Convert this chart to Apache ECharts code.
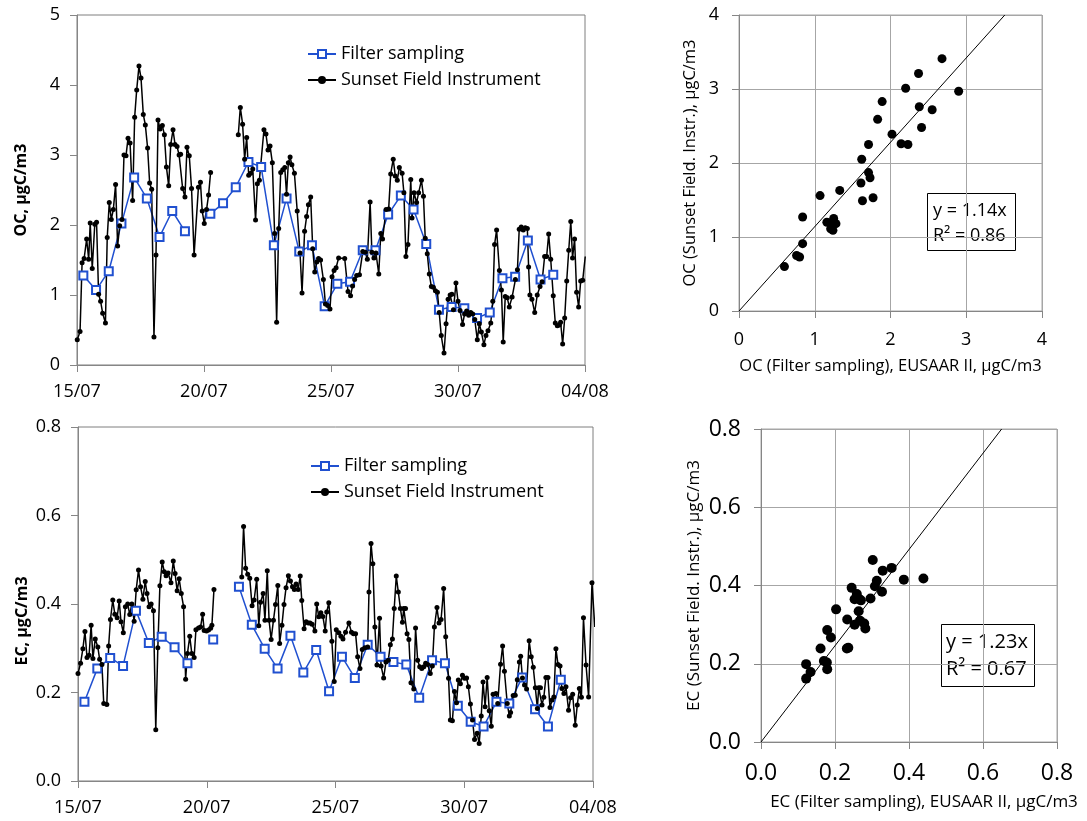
<!DOCTYPE html>
<html>
<head>
<meta charset="utf-8">
<script src="https://cdn.jsdelivr.net/npm/echarts@6/dist/echarts.min.js"></script>
<style>
  html, body { margin: 0; padding: 0; background: #fff; }
  #chart { width: 1087px; height: 821px; }
</style>
</head>
<body>
<div id="chart"></div>
<script>
// tick labels for the time axes (days since 15/07, every 5 days)
const dateLabels = ['15/07', '20/07', '25/07', '30/07', '04/08'];
const seriesNames = ['Filter sampling', 'Sunset Field Instrument'];

// OC filter samples (12 h), null = no sample
const ocFilterDays = [0.25, 0.75, 1.25, 1.75, 2.25, 2.75, 3.25, 3.75, 4.25, 4.75, 5.25, 5.75, 6.25, 6.75, 7.25, 7.75, 8.25, 8.75, 9.25, 9.75,
  10.25, 10.75, 11.25, 11.75, 12.25, 12.75, 13.25, 13.75, 14.25, 14.75, 15.25, 15.75, 16.25, 16.75, 17.25, 17.75, 18.25, 18.75];
const ocFilter = [1.28, 1.07, 1.34, 2.02, 2.68, 2.38, 1.83, 2.20, 1.91, null, 2.16, 2.31, 2.54, 2.90, 2.83, 1.71, 2.38, 1.62, 1.71, 0.84,
  1.16, 1.19, 1.64, 1.64, 2.15, 2.42, 2.22, 1.73, 0.79, 0.83, 0.81, 0.67, 0.75, 1.24, 1.26, 1.78, 1.22, 1.29];

// OC Sunset field instrument
const ocSunsetDays = [0.01, 0.12, 0.20, 0.28, 0.38, 0.46, 0.52, 0.60, 0.70, 0.77, 0.85, 0.93, 1.01, 1.12, 1.19, 1.27, 1.35, 1.43, 1.52, 1.60,
  1.68, 1.77, 1.85, 1.93, 2.01, 2.09, 2.19, 2.27, 2.35, 2.44, 2.52, 2.61, 2.69, 2.78, 2.86, 2.94, 3.03, 3.11, 3.19, 3.27,
  3.36, 3.44, 3.52, 3.61, 3.69, 3.78, 3.86, 3.94, 4.02, 4.08, 4.16, 4.25, 4.33, 4.42, 4.51, 4.61, 4.78, 4.86, 4.93, 5.01,
  5.10, 5.18, 5.26, 5.80, 6.35, 6.43, 6.52, 6.60, 6.68, 6.76, 6.84, 6.92, 7.03, 7.10, 7.18, 7.36, 7.44, 7.52, 7.60, 7.69,
  7.78, 7.86, 7.94, 8.02, 8.10, 8.18, 8.25, 8.32, 8.39, 8.46, 8.56, 8.67, 8.78, 8.86, 8.96, 9.04, 9.11, 9.20, 9.28, 9.36,
  9.44, 9.51, 9.59, 9.70, 9.78, 9.87, 9.96, 10.04, 10.12, 10.20, 10.30, 10.54, 10.67, 10.77, 10.85, 10.93, 11.01, 11.12, 11.25, 11.35,
  11.43, 11.54, 11.61, 11.69, 11.77, 11.88, 11.96, 12.03, 12.17, 12.27, 12.35, 12.45, 12.53, 12.61, 12.69, 12.80, 12.87, 12.95, 13.03, 13.14,
  13.19, 13.27, 13.37, 13.45, 13.56, 13.64, 13.71, 13.79, 13.87, 13.95, 14.03, 14.11, 14.19, 14.26, 14.34, 14.45, 14.53, 14.61, 14.69, 14.76,
  14.82, 14.92, 15.00, 15.08, 15.18, 15.26, 15.34, 15.42, 15.50, 15.58, 15.66, 15.76, 15.84, 15.92, 16.02, 16.10, 16.18, 16.29, 16.37, 16.44,
  16.52, 16.63, 16.71, 16.78, 16.86, 16.94, 17.02, 17.13, 17.26, 17.34, 17.41, 17.49, 17.57, 17.65, 17.73, 17.78, 17.83, 17.91, 18.02, 18.12,
  18.23, 18.31, 18.41, 18.49, 18.57, 18.65, 18.75, 18.83, 18.91, 18.99, 19.04, 19.12, 19.20, 19.28, 19.36, 19.44, 19.51, 19.59, 19.67, 19.75,
  19.83, 19.91, 20.01];
const ocSunset = [0.36, 0.48, 1.46, 1.52, 1.80, 1.51, 2.03, 1.38, 2.01, 2.04, 1.01, 0.91, 0.74, 0.60, 1.82, 2.32, 2.08, 2.22, 2.58, 1.70,
  1.99, 2.08, 3.00, 2.99, 3.24, 3.17, 2.35, 3.54, 3.93, 4.27, 4.10, 3.58, 3.43, 3.10, 2.60, 2.51, 0.40, 1.57, 3.50, 3.37,
  3.42, 3.29, 2.83, 2.56, 3.15, 3.36, 3.15, 3.12, 3.00, 3.01, 2.52, 2.40, 3.11, 2.99, 2.52, 1.57, 2.54, 2.61, 2.20, 2.02,
  2.22, 2.43, 2.75, null, 3.29, 3.68, 3.44, 2.94, 3.25, 2.71, 2.74, 2.80, 2.07, 2.59, 2.64, 3.36, 3.30, 3.07, 3.13, 2.89,
  1.88, 0.61, 1.95, 2.75, 2.79, 2.82, 2.44, 2.89, 2.97, 2.86, 2.74, 2.20, 1.60, 1.03, 1.91, 2.12, 2.29, 2.40, 1.66, 1.33,
  1.47, 1.52, 1.50, 1.22, 0.87, 0.85, 0.80, 1.26, 1.35, 1.39, 1.53, 1.52, 1.05, 0.99, 1.13, 1.22, 1.28, 1.29, 1.62, 1.61,
  1.51, 2.33, 1.61, 1.53, 1.60, 1.30, 1.88, 1.80, 2.22, 2.23, 2.73, 2.94, 2.70, 2.64, 2.82, 2.74, 2.46, 1.55, 1.72, 2.65,
  2.10, 2.46, 2.32, 2.46, 2.64, 2.41, 1.81, 1.59, 1.30, 1.12, 1.11, 1.06, 1.04, 0.75, 0.42, 0.17, 0.59, 0.94, 1.00, 1.01,
  0.79, 1.17, 0.91, 0.78, 0.58, 0.73, 0.77, 0.71, 0.75, 0.73, 0.65, 0.36, 0.59, 0.47, 0.29, 0.42, 0.49, 0.60, 0.91, 1.72,
  1.93, 1.35, 1.07, 0.33, 0.98, 0.96, 0.83, 0.97, 1.22, 1.36, 1.94, 1.97, 1.93, 1.96, 1.95, 1.40, 1.00, 0.94, 0.75, 1.00,
  1.12, 1.19, 1.55, 1.55, 1.87, 1.51, 0.99, 0.60, 0.56, 0.57, 0.61, 0.30, 0.67, 1.20, 1.64, 2.05, 1.53, 1.80, 1.04, 0.83,
  1.20, 1.21, 1.55];

// EC filter samples
const ecFilterDays = ocFilterDays;
const ecFilter = [0.179, 0.254, 0.278, 0.260, 0.385, 0.312, 0.326, 0.302, 0.266, null, 0.320, null, 0.439, 0.353, 0.299, 0.254, 0.328, 0.245, 0.296, 0.203,
  0.281, 0.233, 0.308, 0.281, 0.269, 0.263, 0.188, 0.273, 0.266, 0.170, 0.134, 0.123, 0.179, 0.175, 0.234, 0.162, 0.123, 0.229];

// EC Sunset field instrument
const ecSunsetDays = [0.00, 0.10, 0.19, 0.27, 0.35, 0.43, 0.51, 0.58, 0.67, 0.77, 0.84, 0.93, 1.00, 1.12, 1.19, 1.26, 1.35, 1.43, 1.52, 1.60,
  1.67, 1.76, 1.84, 1.93, 2.01, 2.09, 2.18, 2.26, 2.35, 2.43, 2.52, 2.61, 2.68, 2.76, 2.84, 2.93, 3.02, 3.10, 3.18, 3.27,
  3.35, 3.42, 3.50, 3.61, 3.70, 3.77, 3.85, 3.93, 4.01, 4.10, 4.18, 4.25, 4.34, 4.42, 4.51, 4.58, 4.68, 4.76, 4.84, 4.90,
  4.99, 5.07, 5.15, 5.20, 5.28, 5.80, 6.36, 6.43, 6.51, 6.59, 6.67, 6.76, 6.84, 6.94, 7.02, 7.09, 7.19, 7.26, 7.35, 7.42,
  7.50, 7.59, 7.67, 7.76, 7.83, 7.92, 8.00, 8.08, 8.17, 8.25, 8.33, 8.40, 8.47, 8.55, 8.63, 8.69, 8.78, 8.86, 8.94, 9.01,
  9.09, 9.20, 9.27, 9.35, 9.43, 9.51, 9.60, 9.66, 9.74, 9.86, 9.95, 10.03, 10.13, 10.21, 10.29, 10.39, 10.52, 10.62, 10.70, 10.78,
  10.86, 10.95, 11.04, 11.14, 11.25, 11.30, 11.38, 11.45, 11.53, 11.61, 11.71, 11.77, 11.87, 11.96, 12.05, 12.13, 12.21, 12.28, 12.36, 12.44,
  12.52, 12.60, 12.65, 12.72, 12.78, 12.85, 12.93, 13.04, 13.11, 13.19, 13.27, 13.35, 13.43, 13.50, 13.58, 13.68, 13.76, 13.84, 13.94, 14.02,
  14.10, 14.20, 14.28, 14.39, 14.46, 14.54, 14.62, 14.70, 14.77, 14.85, 14.93, 15.01, 15.09, 15.16, 15.24, 15.32, 15.40, 15.50, 15.58, 15.66,
  15.73, 15.81, 15.89, 15.97, 16.05, 16.12, 16.23, 16.30, 16.41, 16.49, 16.56, 16.67, 16.75, 16.80, 16.90, 16.98, 17.06, 17.14, 17.19, 17.26,
  17.34, 17.42, 17.52, 17.60, 17.68, 17.76, 17.84, 17.89, 17.96, 18.02, 18.09, 18.17, 18.25, 18.33, 18.41, 18.48, 18.56, 18.64, 18.72, 18.79,
  18.87, 18.95, 19.05, 19.13, 19.21, 19.31, 19.39, 19.47, 19.55, 19.63, 19.73, 19.83, 19.96, 20.07];
const ecSunset = [0.243, 0.266, 0.299, 0.338, 0.279, 0.284, 0.352, 0.277, 0.321, 0.303, 0.275, 0.263, 0.175, 0.173, 0.305, 0.365, 0.409, 0.377, 0.369, 0.407,
  0.360, 0.335, 0.394, 0.400, 0.376, 0.400, 0.361, 0.432, 0.477, 0.439, 0.411, 0.451, 0.424, 0.394, 0.400, 0.385, 0.116, 0.301, 0.441, 0.495,
  0.473, 0.464, 0.470, 0.448, 0.497, 0.469, 0.430, 0.457, 0.424, 0.394, 0.230, 0.288, 0.327, 0.288, 0.279, 0.342, 0.346, 0.348, 0.377, 0.340,
  0.339, 0.341, 0.345, 0.352, 0.433, null, 0.461, 0.575, 0.481, 0.467, 0.458, 0.396, 0.409, 0.456, 0.351, 0.404, 0.424, 0.363, 0.475, 0.363,
  0.320, 0.363, 0.399, 0.442, 0.311, 0.352, 0.399, 0.437, 0.464, 0.452, 0.439, 0.433, 0.445, 0.433, 0.463, 0.408, 0.344, 0.360, 0.357, 0.357,
  0.354, 0.339, 0.400, 0.371, 0.380, 0.372, 0.339, 0.382, 0.403, 0.316, 0.225, 0.342, 0.335, 0.327, 0.321, 0.336, 0.357, 0.336, 0.333, 0.333,
  0.281, 0.254, 0.297, 0.301, 0.303, 0.427, 0.537, 0.491, 0.348, 0.262, 0.368, 0.260, 0.233, 0.269, 0.273, 0.308, 0.321, 0.390, 0.463, 0.427,
  0.390, 0.359, 0.390, 0.390, 0.333, 0.320, 0.222, 0.208, 0.346, 0.273, 0.258, 0.254, 0.258, 0.266, 0.263, 0.243, 0.260, 0.348, 0.392, 0.357,
  0.365, 0.435, 0.326, 0.232, 0.138, 0.136, 0.202, 0.177, 0.228, 0.220, 0.239, 0.232, 0.233, 0.213, 0.174, 0.138, 0.094, 0.108, 0.085, 0.147,
  0.224, 0.168, 0.234, 0.159, 0.124, 0.196, 0.198, 0.175, 0.264, 0.305, 0.248, 0.175, 0.147, 0.155, 0.193, 0.194, 0.229, 0.269, 0.282, 0.233,
  0.217, 0.208, 0.317, 0.281, 0.257, 0.211, 0.164, 0.211, 0.211, 0.172, 0.189, 0.234, 0.234, 0.166, 0.183, 0.190, 0.299, 0.263, 0.260, 0.209,
  0.198, 0.213, 0.160, 0.188, 0.196, 0.126, 0.172, 0.209, 0.189, 0.369, 0.262, 0.190, 0.448, 0.348];

// scatter: filter (x) vs Sunset averaged (y)
const ocScatterX = [0.60, 0.76, 0.80, 0.84, 0.84, 1.07, 1.16, 1.21, 1.24, 1.25, 1.28, 1.22, 1.33, 1.61, 1.62, 1.63, 1.71, 1.71, 1.73, 1.77,
  1.83, 1.89, 2.02, 2.14, 2.20, 2.23, 2.37, 2.38, 2.41, 2.55, 2.68, 2.90];
const ocScatterY = [0.60, 0.75, 0.73, 1.27, 0.91, 1.56, 1.20, 1.11, 1.09, 1.25, 1.18, 1.17, 1.63, 1.73, 2.05, 1.49, 1.87, 2.25, 1.80, 1.53,
  2.59, 2.83, 2.39, 2.26, 3.01, 2.25, 3.21, 2.76, 2.48, 2.72, 3.41, 2.97];
const ecScatterX = [0.122, 0.122, 0.134, 0.161, 0.170, 0.178, 0.179, 0.179, 0.189, 0.203, 0.233, 0.232, 0.236, 0.245, 0.253, 0.259, 0.253, 0.264, 0.266, 0.270,
  0.268, 0.279, 0.282, 0.296, 0.302, 0.308, 0.313, 0.327, 0.329, 0.353, 0.386, 0.439];
const ecScatterY = [0.162, 0.199, 0.179, 0.239, 0.207, 0.203, 0.186, 0.286, 0.267, 0.339, 0.313, 0.239, 0.241, 0.394, 0.365, 0.378, 0.300, 0.334, 0.365, 0.362,
  0.310, 0.303, 0.290, 0.367, 0.465, 0.398, 0.412, 0.384, 0.438, 0.445, 0.415, 0.418];

// regression through origin: [slope, R²]
const ocFit = [1.14, 0.86];
const ecFit = [1.23, 0.67];

const FONT = "'Open Sans', sans-serif";
const BLUE = '#2050d0';
const AXIS_GREY = '#868686';

function pairs(xs, ys) {
  return xs.map((x, i) => [x, ys[i] == null ? '-' : ys[i]]);
}

function timeXAxis(gridIndex) {
  return {
    type: 'value', gridIndex: gridIndex, min: 0, max: 20, interval: 5,
    axisLine: { lineStyle: { color: AXIS_GREY } },
    axisTick: { show: true, length: 7, lineStyle: { color: AXIS_GREY } },
    axisLabel: { formatter: v => dateLabels[Math.round(v / 5)], margin: 18, color: '#000', fontSize: 18, fontFamily: FONT },
    splitLine: { show: false }
  };
}

function valueAxis(gridIndex, max, interval, digits, labelSize, grid, extra) {
  return Object.assign({
    type: 'value', gridIndex: gridIndex, min: 0, max: max, interval: interval,
    axisLine: { show: true, lineStyle: { color: AXIS_GREY } },
    axisTick: { show: true, length: 7, lineStyle: { color: AXIS_GREY } },
    axisLabel: { formatter: v => v.toFixed(digits), margin: grid ? 20 : 17, color: '#000', fontSize: labelSize, fontFamily: FONT },
    splitLine: { show: grid, lineStyle: { color: '#a6a6a6', width: 1 } }
  }, extra);
}

function fitBox(fit) {
  return 'y = ' + fit[0].toFixed(2) + 'x\nR² = ' + fit[1].toFixed(2);
}

const chart = echarts.init(document.getElementById('chart'), null, { renderer: 'canvas' });

const legendBase = {
  data: seriesNames, orient: 'vertical', itemWidth: 28, itemHeight: 10, itemGap: 8,
  textStyle: { fontSize: 18, fontFamily: FONT, color: '#000' }
};

const option = {
  animation: false,
  backgroundColor: '#fff',
  grid: [
    { left: 77, top: 15, width: 508, height: 350, show: true, borderColor: '#7f7f7f', borderWidth: 1 },
    { left: 78, top: 427, width: 515, height: 354, show: true, borderColor: '#7f7f7f', borderWidth: 1 },
    { left: 739, top: 15, width: 303, height: 296, show: true, borderColor: '#a6a6a6', borderWidth: 1 },
    { left: 761, top: 429, width: 296, height: 313, show: true, borderColor: '#a6a6a6', borderWidth: 1 }
  ],
  legend: [
    Object.assign({ left: 302, top: 40 }, legendBase),
    Object.assign({ left: 305, top: 452 }, legendBase)
  ],
  xAxis: [
    timeXAxis(0),
    timeXAxis(1),
    valueAxis(2, 4, 1, 0, 18, true, {
      name: 'OC (Filter sampling), EUSAAR II, µgC/m3', nameLocation: 'middle', nameGap: 47,
      nameTextStyle: { fontSize: 16.5, fontFamily: FONT, color: '#000' }
    }),
    valueAxis(3, 0.8, 0.2, 1, 23, true, {
      name: 'EC (Filter sampling), EUSAAR II, µgC/m3', nameLocation: 'middle', nameGap: 52,
      nameTextStyle: { fontSize: 17, fontFamily: FONT, color: '#000', padding: [0, 0, 0, 30] }
    })
  ],
  yAxis: [
    valueAxis(0, 5, 1, 0, 18, false, {
      name: 'OC, µgC/m3', nameLocation: 'middle', nameGap: 48,
      nameTextStyle: { fontSize: 16, fontWeight: 'bold', fontFamily: FONT, color: '#000' }
    }),
    valueAxis(1, 0.8, 0.2, 1, 18, false, {
      name: 'EC, µgC/m3', nameLocation: 'middle', nameGap: 48,
      nameTextStyle: { fontSize: 16, fontWeight: 'bold', fontFamily: FONT, color: '#000', padding: [0, 34, 0, 0] }
    }),
    valueAxis(2, 4, 1, 0, 18, true, {
      name: 'OC (Sunset Field. Instr.), µgC/m3', nameLocation: 'middle', nameGap: 40,
      nameTextStyle: { fontSize: 16.5, fontFamily: FONT, color: '#000' }
    }),
    valueAxis(3, 0.8, 0.2, 1, 23, true, {
      name: 'EC (Sunset Field. Instr.), µgC/m3', nameLocation: 'middle', nameGap: 58,
      nameTextStyle: { fontSize: 17, fontFamily: FONT, color: '#000' }
    })
  ],
  series: [
    {
      name: seriesNames[0], type: 'line', xAxisIndex: 0, yAxisIndex: 0,
      data: pairs(ocFilterDays, ocFilter), showAllSymbol: true,
      symbol: 'emptyRect', symbolSize: 8,
      lineStyle: { color: BLUE, width: 1.5 }, itemStyle: { color: BLUE, borderWidth: 1.3 }
    },
    {
      name: seriesNames[1], type: 'line', xAxisIndex: 0, yAxisIndex: 0,
      data: pairs(ocSunsetDays, ocSunset), showAllSymbol: true,
      symbol: 'circle', symbolSize: 5,
      lineStyle: { color: '#000', width: 1.5 }, itemStyle: { color: '#000' }
    },
    {
      name: seriesNames[0], type: 'line', xAxisIndex: 1, yAxisIndex: 1,
      data: pairs(ecFilterDays, ecFilter), showAllSymbol: true,
      symbol: 'emptyRect', symbolSize: 8,
      lineStyle: { color: BLUE, width: 1.5 }, itemStyle: { color: BLUE, borderWidth: 1.3 }
    },
    {
      name: seriesNames[1], type: 'line', xAxisIndex: 1, yAxisIndex: 1,
      data: pairs(ecSunsetDays, ecSunset), showAllSymbol: true,
      symbol: 'circle', symbolSize: 5,
      lineStyle: { color: '#000', width: 1.5 }, itemStyle: { color: '#000' }
    },
    {
      type: 'scatter', xAxisIndex: 2, yAxisIndex: 2, symbolSize: 9,
      data: pairs(ocScatterX, ocScatterY), itemStyle: { color: '#000', opacity: 1 }
    },
    {
      type: 'line', xAxisIndex: 2, yAxisIndex: 2, symbol: 'none', silent: true,
      data: [[0, 0], [4 / ocFit[0], 4]], lineStyle: { color: '#000', width: 1 }
    },
    {
      type: 'scatter', xAxisIndex: 3, yAxisIndex: 3, symbolSize: 10,
      data: pairs(ecScatterX, ecScatterY), itemStyle: { color: '#000', opacity: 1 }
    },
    {
      type: 'line', xAxisIndex: 3, yAxisIndex: 3, symbol: 'none', silent: true,
      data: [[0, 0], [0.8 / ecFit[0], 0.8]], lineStyle: { color: '#000', width: 1 }
    }
  ],
  graphic: [
    {
      type: 'group', left: 927, top: 193, z: 100,
      children: [
        { type: 'rect', shape: { x: 0.5, y: 0.5, width: 88, height: 57 }, style: { fill: '#fff', stroke: '#000', lineWidth: 1 } },
        { type: 'text', x: 6, y: 5, style: { text: fitBox(ocFit), fontSize: 18, fontFamily: FONT, lineHeight: 25, fill: '#000' } }
      ]
    },
    {
      type: 'group', left: 941, top: 624, z: 100,
      children: [
        { type: 'rect', shape: { x: 0.5, y: 0.5, width: 93, height: 62 }, style: { fill: '#fff', stroke: '#000', lineWidth: 1 } },
        { type: 'text', x: 5, y: 5, style: { text: fitBox(ecFit), fontSize: 20, fontFamily: FONT, lineHeight: 27, fill: '#000' } }
      ]
    }
  ]
};

chart.setOption(option);
</script>
</body>
</html>
